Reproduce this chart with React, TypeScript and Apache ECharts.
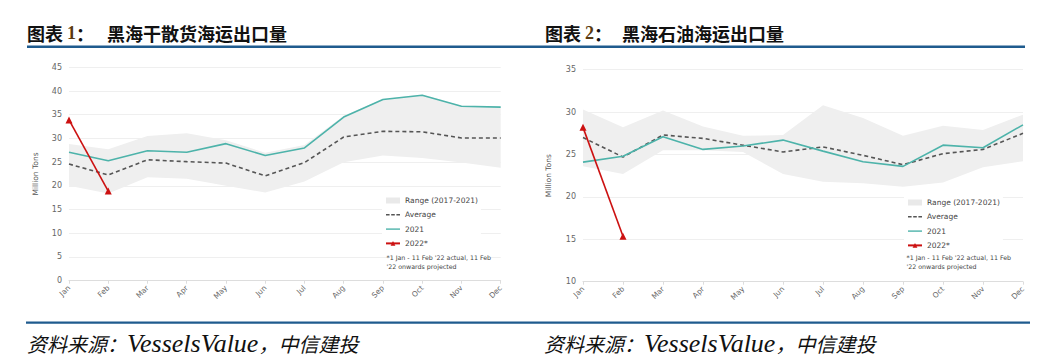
import React, { useEffect, useRef } from "react";
import * as echarts from "echarts";

const months = ["Jan", "Feb", "Mar", "Apr", "May", "Jun", "Jul", "Aug", "Sep", "Oct", "Nov", "Dec"];

// Chart 1: Black Sea dry bulk seaborne exports (million tons)
const dry2021 = [27.1, 25.3, 27.4, 27.1, 28.9, 26.4, 28.0, 34.5, 38.2, 39.1, 36.8, 36.6];
const dryAvg = [24.6, 22.3, 25.5, 25.1, 24.8, 22.1, 24.9, 30.3, 31.5, 31.4, 30.1, 30.1];
const dry2022 = [33.9, 18.9];
const dryLow = [20.0, 18.4, 21.8, 21.5, 20.0, 18.6, 20.9, 25.0, 26.4, 25.9, 24.9, 23.8];
const dryHigh = [28.8, 27.7, 30.5, 31.1, 29.6, 27.0, 28.6, 34.8, 38.3, 39.2, 36.9, 36.7];

// Chart 2: Black Sea oil seaborne exports (million tons)
const oil2021 = [24.1, 24.8, 27.1, 25.6, 26.0, 26.7, 25.4, 24.15, 23.6, 26.1, 25.8, 28.5];
const oilAvg = [27.0, 24.7, 27.3, 26.9, 26.1, 25.3, 25.9, 24.9, 23.8, 25.1, 25.6, 27.5];
const oil2022 = [28.2, 15.35];
const oilLow = [23.6, 22.7, 25.5, 25.5, 25.3, 22.7, 21.8, 21.6, 21.2, 21.7, 23.5, 24.2];
const oilHigh = [30.3, 28.2, 30.2, 28.3, 27.2, 27.3, 30.8, 29.3, 27.2, 28.4, 27.9, 29.7];

const title1 = "黑海干散货海运出口量";
const title2 = "黑海石油海运出口量";
const sourceCn1 = "资料来源：";
const sourceEn = "VesselsValue";
const sourceCn2 = "，中信建投";
const noteLine1 = "*1 Jan - 11 Feb '22 actual, 11 Feb";
const noteLine2 = "'22 onwards projected";
const yName = "Million Tons";

const RANGE = "Range (2017-2021)";
const AVG = "Average";
const Y21 = "2021";
const Y22 = "2022*";

const TEAL = "#4db3aa";
const RED = "#cc1111";
const DASH = "#555555";
const BAND = "#efefef";
const BLUE = "#1f5b8e";
const FONT = "DejaVu Sans";

const ICON_DASH =
  "path://M0,0L0,0M0,2.3h3.6v1.4h-3.6zM5.2,2.3h3.6v1.4h-3.6zM10.4,2.3h3.6v1.4h-3.6zM14,6L14,6";
const ICON_LINE = "path://M0,0L0,0M0,2.3h14v1.4h-14zM14,6L14,6";

function seriesFor(idx: number, low: number[], high: number[], avg: number[], s21: number[], s22: number[]) {
  const stack = "band" + idx;
  return [
    {
      name: "base" + idx,
      type: "line",
      xAxisIndex: idx,
      yAxisIndex: idx,
      stack,
      data: low,
      symbol: "none",
      lineStyle: { opacity: 0 },
      silent: true,
      z: 1,
    },
    {
      name: RANGE,
      type: "line",
      xAxisIndex: idx,
      yAxisIndex: idx,
      stack,
      data: high.map((h, i) => +(h - low[i]).toFixed(2)),
      symbol: "none",
      lineStyle: { opacity: 0, width: 0 },
      itemStyle: { color: "#e6e6e6" },
      areaStyle: { color: BAND, opacity: 1 },
      z: 1,
    },
    {
      name: AVG,
      type: "line",
      xAxisIndex: idx,
      yAxisIndex: idx,
      data: avg,
      symbol: "none",
      lineStyle: { color: DASH, width: 1.6, type: [4, 3] },
      itemStyle: { color: DASH },
      z: 3,
    },
    {
      name: Y21,
      type: "line",
      xAxisIndex: idx,
      yAxisIndex: idx,
      data: s21,
      symbol: "none",
      lineStyle: { color: TEAL, width: 1.6 },
      itemStyle: { color: TEAL },
      z: 4,
    },
    {
      name: Y22,
      type: "line",
      xAxisIndex: idx,
      yAxisIndex: idx,
      data: s22,
      symbol: "triangle",
      symbolSize: 7,
      lineStyle: { color: RED, width: 1.6 },
      itemStyle: { color: RED },
      z: 5,
    },
  ];
}

function xAxisFor(idx: number) {
  return {
    type: "category",
    gridIndex: idx,
    data: months,
    boundaryGap: false,
    axisLine: { lineStyle: { color: "#dddddd", width: 1 } },
    axisTick: { show: true, length: 3, lineStyle: { color: "#dddddd" } },
    axisLabel: { rotate: 45, fontSize: 7.5, color: "#666", fontFamily: FONT, margin: 6, interval: 0 },
    splitLine: { show: false },
  };
}

function yAxisFor(idx: number, min: number, max: number, gap: number) {
  return {
    type: "value",
    gridIndex: idx,
    min,
    max,
    interval: 5,
    name: yName,
    nameLocation: "middle",
    nameRotate: 90,
    nameGap: gap,
    nameTextStyle: { fontSize: 7.5, color: "#555", fontFamily: FONT },
    axisLine: { show: false },
    axisTick: { show: false },
    axisLabel: { fontSize: 8, color: "#666", fontFamily: FONT, margin: 7 },
    splitLine: { lineStyle: { color: "#efefef", width: 1 } },
  };
}

function legendFor(left: number, top: number) {
  return {
    orient: "vertical",
    left,
    top,
    padding: 3,
    itemWidth: 14,
    itemHeight: 6,
    itemGap: 3.3,
    backgroundColor: "#ffffff",
    textStyle: { fontSize: 7.5, color: "#444", fontFamily: FONT, lineHeight: 11 },
    data: [
      { name: RANGE, icon: "rect", itemStyle: { color: "#e9e9e9" } },
      { name: AVG, icon: ICON_DASH, itemStyle: { color: DASH } },
      { name: Y21, icon: ICON_LINE, itemStyle: { color: TEAL } },
      { name: Y22 },
    ],
  };
}

function note(x: number, y: number, text: string) {
  return {
    type: "text",
    x,
    y,
    z: 20,
    style: { text, fontSize: 6.3, fill: "#444", fontFamily: FONT, textVerticalAlign: "middle", backgroundColor: "#fff" },
  };
}

function source(x: number) {
  return {
    type: "text",
    x,
    y: 343,
    style: {
      text: "{c|" + sourceCn1 + "}{e|" + sourceEn + "}{c|" + sourceCn2 + "}",
      textVerticalAlign: "middle",
      rich: {
        c: { fontSize: 20, fontStyle: "italic", fontFamily: "Noto Sans CJK SC", fill: "#111" },
        e: { fontSize: 26, fontStyle: "italic", fontFamily: "Liberation Serif", fill: "#111" },
      },
    },
  };
}

export default function App() {
  const ref = useRef<HTMLDivElement>(null);
  useEffect(() => {
    if (!ref.current) return;
    const chart = echarts.init(ref.current, undefined, { renderer: "svg" });
    const titleStyle = (x: number, num: string, text: string, textX: number) => [
      {
        type: "text",
        x,
        y: 33,
        style: {
          text: "{a|图表 }{n|" + num + "}{a|：}",
          textVerticalAlign: "middle",
          rich: {
            a: { fontSize: 18, fontWeight: "bold", fontFamily: "Noto Sans CJK SC", fill: "#111" },
            n: { fontSize: 18, fontWeight: "bold", fontFamily: "Liberation Serif", fill: "#5a3a10" },
          },
        },
      },
      {
        type: "text",
        x: textX,
        y: 33,
        style: {
          text,
          fontSize: 18,
          fontWeight: "bold",
          fontFamily: "Noto Sans CJK SC",
          fill: "#111",
          textVerticalAlign: "middle",
        },
      },
    ];
    const option = {
      animation: false,
      backgroundColor: "#ffffff",
      grid: [
        { left: 69, right: 547.3, top: 67.3, bottom: 80.3 },
        { left: 583, right: 25, top: 69.7, bottom: 79.3 },
      ],
      xAxis: [xAxisFor(0), xAxisFor(1)],
      yAxis: [yAxisFor(0, 0, 45, 30), yAxisFor(1, 10, 35, 31)],
      legend: [legendFor(382, 192), legendFor(904, 194)],
      series: [
        ...seriesFor(0, dryLow, dryHigh, dryAvg, dry2021, dry2022),
        ...seriesFor(1, oilLow, oilHigh, oilAvg, oil2021, oil2022),
      ],
      graphic: [
        ...titleStyle(27, "1", title1, 107),
        ...titleStyle(545, "2", title2, 622),
        { type: "rect", shape: { x: 27, y: 45.5, width: 998, height: 2.5 }, style: { fill: BLUE } },
        { type: "rect", shape: { x: 26, y: 321.5, width: 1004, height: 2.2 }, style: { fill: BLUE } },
        source(27),
        source(544),
        note(386.5, 257.5, noteLine1),
        note(386.5, 266, noteLine2),
        note(906.5, 257, noteLine1),
        note(906.5, 266, noteLine2),
      ],
    };
    chart.setOption(option as any);
    return () => chart.dispose();
  }, []);
  return <div ref={ref} style={{ position: "absolute", left: 0, top: 0, width: 1048, height: 361 }} />;
}
